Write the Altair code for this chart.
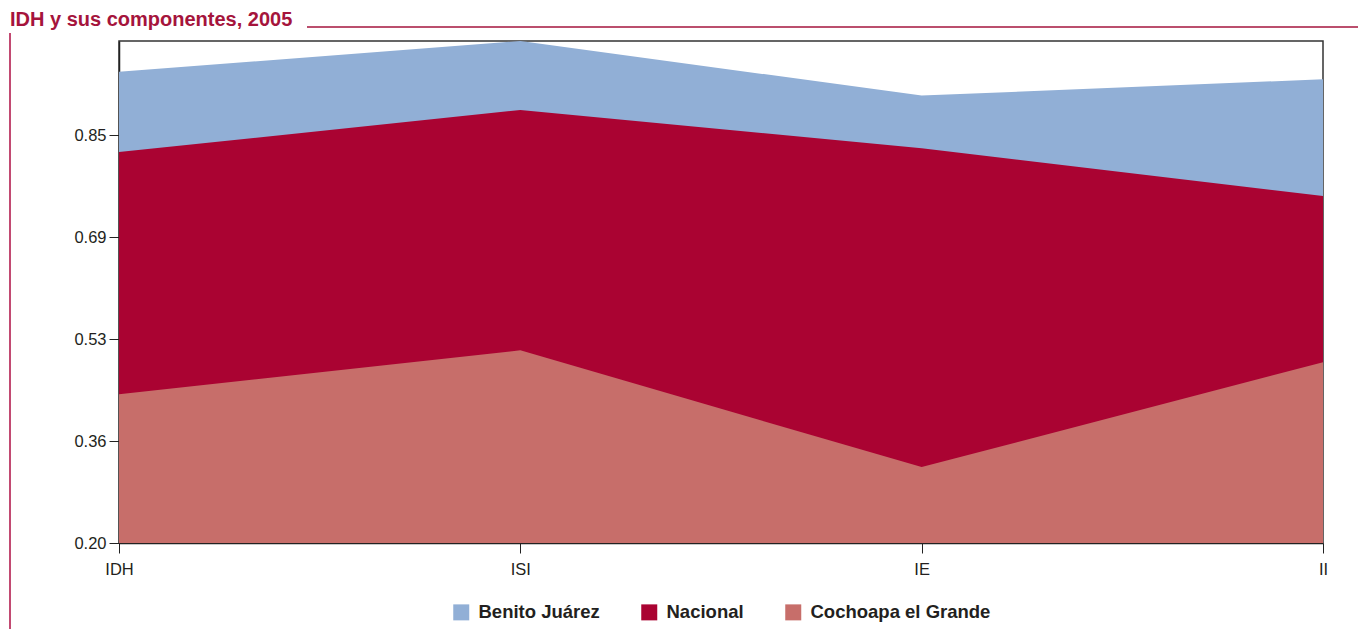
import altair as alt
import pandas as pd

categories = ["IDH", "ISI", "IE", "II"]
series_names = ["Benito Juárez", "Nacional", "Cochoapa el Grande"]
benito_juarez = [0.951, 1.000, 0.913, 0.939]
nacional = [0.823, 0.890, 0.829, 0.753]
cochoapa = [0.437, 0.507, 0.321, 0.488]
series_colors = ["#91AFD6", "#AA0332", "#C76E6A"]
y_ticks = [0.20, 0.3625, 0.525, 0.6875, 0.85]
title_text = "IDH y sus componentes, 2005"

rows = []
for name, vals in zip(series_names, [benito_juarez, nacional, cochoapa]):
    for c, v in zip(categories, vals):
        rows.append({"cat": c, "serie": name, "valor": v})
df = pd.DataFrame(rows)

FONT = "Liberation Sans"
color_scale = alt.Scale(domain=series_names, range=series_colors)

x_enc = alt.X("cat:N", sort=categories, scale=alt.Scale(padding=0),
              axis=alt.Axis(title=None, labelAngle=0, tickSize=10, labelPadding=8,
                            labelFontSize=16.5, labelFont=FONT, labelColor="#231f20",
                            domainColor="#222", tickColor="#222", domainWidth=1.5))
y_enc = alt.Y("valor:Q", scale=alt.Scale(domain=[0.2, 1.0], zero=False, nice=False),
              axis=alt.Axis(title=None, values=y_ticks, format=".2f", grid=False,
                            tickSize=10, labelPadding=3, labelFontSize=16.5, labelFont=FONT,
                            labelColor="#231f20", domainColor="#222", tickColor="#222",
                            domainWidth=1.5))

layers = []
for i, name in enumerate(series_names):
    layer = alt.Chart(df).transform_filter(alt.datum.serie == name).mark_area(
        opacity=1, clip=True
    ).encode(
        x=x_enc,
        y=y_enc,
        y2=alt.datum(0.2),
        color=alt.Color("serie:N", scale=color_scale, sort=series_names,
                        legend=alt.Legend(title=None, orient="none", direction="horizontal",
                                          legendX=333, legendY=562,
                                          symbolType="square", symbolSize=256,
                                          symbolStrokeWidth=0, symbolOpacity=1,
                                          labelFontSize=18.5, labelFont=FONT,
                                          labelFontWeight="bold", labelColor="#231f20",
                                          labelOffset=8, columnPadding=40,
                                          labelLimit=400) if i == 0 else None),
    )
    layers.append(layer)

one = pd.DataFrame({"t": [title_text]})
title_layer = alt.Chart(one).mark_text(
    align="left", baseline="alphabetic", fontSize=20, fontWeight="bold",
    font=FONT, color="#A5143C"
).encode(text="t:N", x=alt.value(-109), y=alt.value(-15))

hrule = alt.Chart(one).mark_rule(color="#A5143C", strokeWidth=1.5).encode(
    x=alt.value(188), x2=alt.value(1250), y=alt.value(-14))
vrule = alt.Chart(one).mark_rule(color="#C24A72", strokeWidth=2).encode(
    x=alt.value(-109), y=alt.value(-8), y2=alt.value(600))

chart = alt.layer(*layers, hrule, vrule, title_layer).properties(
    width=1204, height=502,
    autosize=alt.AutoSizeParams(type="none"),
    padding={"left": 111, "top": 33, "right": 35, "bottom": 86},
).configure_view(stroke="#333", strokeWidth=1.5)

chart.save("out.html", embed_options={"renderer": "svg", "actions": False})
